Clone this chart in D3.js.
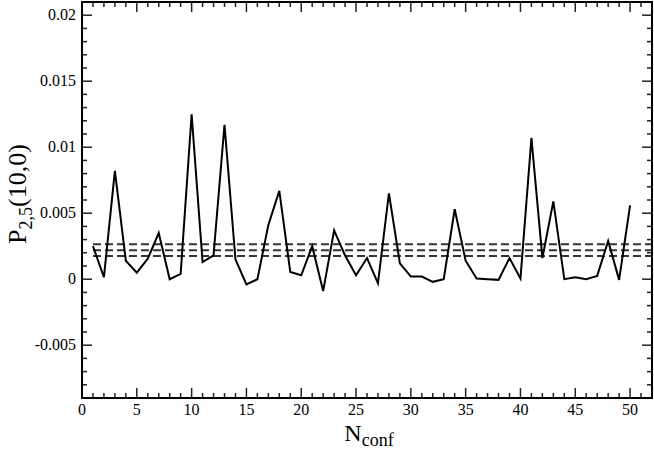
<!DOCTYPE html>
<html><head><meta charset="utf-8">
<script src="https://cdn.jsdelivr.net/npm/d3@7"></script>
<style>body{margin:0;background:#fff}svg{display:block}text{font-family:"Liberation Serif","Times New Roman",serif}</style>
</head><body><svg id="c" width="654" height="451"></svg>
<script>
const nconf = d3.range(1, 51);
const values = [0.0025,0.00015,0.0082,0.0014,0.0005,0.00155,0.0035,0.0000,0.0004,0.0125,
  0.0013,0.0018,0.0117,0.0015,-0.0004,0.0000,0.0041,0.0067,0.00055,0.0003,
  0.0025,-0.0009,0.0037,0.0018,0.0003,0.0016,-0.0003,0.0065,0.0012,0.0002,
  0.0002,-0.0002,0.0000,0.0053,0.0014,0.00005,0.0000,-0.00005,0.0016,0.00005,
  0.0107,0.0016,0.0059,0.0000,0.00015,0.0000,0.00025,0.0029,-0.00005,0.0056];
const refLines = [0.00264, 0.0022, 0.00176];
const xTicks = [0,5,10,15,20,25,30,35,40,45,50];
const yTicks = [-0.005,0,0.005,0.01,0.015,0.02];

const svg = d3.select("#c");
const L = 82, R = 652, T = 2, B = 398;
const x = d3.scaleLinear().domain([0, 52]).range([L, R]);
const y = d3.scaleLinear().domain([-0.009, 0.021]).range([B, T]);

const g = svg.append("g");
const xMinor = d3.range(0, 53, 1);
const yMinor = d3.range(-9, 22, 1).map(v => v / 1000);
const isMajX = v => v % 5 === 0;
const isMajY = v => Math.abs(Math.round(v*200) - v*200) < 1e-6;
xMinor.forEach(v => {
  const len = isMajX(v) ? 10 : 5;
  g.append("line").attr("x1", x(v)).attr("x2", x(v)).attr("y1", B).attr("y2", B - len).attr("stroke","#222").attr("stroke-width",1.5);
  g.append("line").attr("x1", x(v)).attr("x2", x(v)).attr("y1", T).attr("y2", T + len).attr("stroke","#222").attr("stroke-width",1.5);
});
yMinor.forEach(v => {
  const len = isMajY(v) ? 10 : 5;
  g.append("line").attr("y1", y(v)).attr("y2", y(v)).attr("x1", L).attr("x2", L + len).attr("stroke","#222").attr("stroke-width",1.5);
  g.append("line").attr("y1", y(v)).attr("y2", y(v)).attr("x1", R).attr("x2", R - len).attr("stroke","#222").attr("stroke-width",1.5);
});

g.selectAll("text.xt").data(xTicks).enter().append("text")
  .attr("x", d => x(d)).attr("y", 415).attr("text-anchor","middle")
  .attr("font-size", 16).text(d => d);
g.selectAll("text.yt").data(yTicks).enter().append("text")
  .attr("x", 76).attr("y", d => y(d) + 5).attr("text-anchor","end")
  .attr("font-size", 16).text(d => d === 0 ? "0" : String(d));

refLines.forEach(v => {
  g.append("line").attr("x1", x(1)).attr("x2", x(52)).attr("y1", y(v)).attr("y2", y(v))
    .attr("stroke","#333").attr("stroke-width",2).attr("stroke-dasharray","8,4");
});

const line = d3.line().x((d,i) => x(nconf[i])).y(d => y(d));
g.append("path").datum(values).attr("d", line).attr("fill","none")
  .attr("stroke","#000").attr("stroke-width",2).attr("stroke-linejoin","miter");

g.append("rect").attr("x", L).attr("y", T).attr("width", R - L).attr("height", B - T)
  .attr("fill","none").attr("stroke","#000").attr("stroke-width",2);

const xl = svg.append("text").attr("x", (L+R)/2 + 2).attr("y", 441).attr("text-anchor","middle").attr("font-size", 24);
xl.append("tspan").text("N");
xl.append("tspan").attr("font-size", 18).attr("dy", 5).text("conf");

const yl = svg.append("text").attr("transform", `translate(26,194) rotate(-90)`).attr("text-anchor","middle").attr("font-size", 26);
yl.append("tspan").text("P");
yl.append("tspan").attr("font-size", 18).attr("dy", 6).text("2,5");
yl.append("tspan").attr("dy", -6).text("(10,0)");
</script></body></html>
